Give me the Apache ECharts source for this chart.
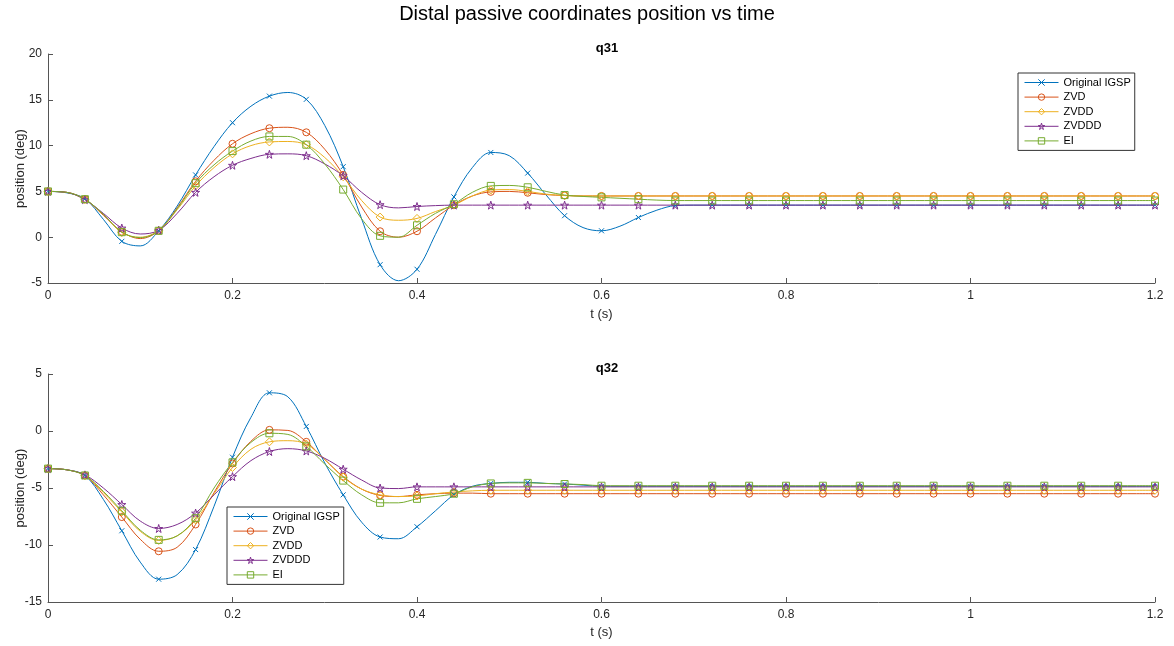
<!DOCTYPE html>
<html>
<head>
<meta charset="utf-8">
<title>Distal passive coordinates position vs time</title>
<script src="https://cdn.jsdelivr.net/npm/echarts@6/dist/echarts.min.js"></script>
<style>
  html, body { margin: 0; padding: 0; background: #fff; }
  #chart { width: 1174px; height: 646px; }
</style>
</head>
<body>
<div id="chart"></div>
<script>
// Time samples (s)
const timeS = [0, 0.02, 0.04, 0.06, 0.08, 0.1, 0.12, 0.14, 0.16, 0.18,
  0.2, 0.22, 0.24, 0.26, 0.28, 0.3, 0.32, 0.34, 0.36, 0.38,
  0.4, 0.42, 0.44, 0.46, 0.48, 0.5, 0.52, 0.54, 0.56, 0.58,
  0.6, 0.62, 0.64, 0.66, 0.68, 0.7, 0.72, 0.74, 0.76, 0.78,
  0.8, 0.82, 0.84, 0.86, 0.88, 0.9, 0.92, 0.94, 0.96, 0.98,
  1, 1.02, 1.04, 1.06, 1.08, 1.1, 1.12, 1.14, 1.16, 1.18, 1.2];

const seriesNames = ['Original IGSP', 'ZVD', 'ZVDD', 'ZVDDD', 'EI'];

// q31 position (deg)
const q31Original = [5.0, 4.85, 4.2, 1.95, -0.45, -0.95, 0.7, 3.4, 6.8, 9.9,
  12.5, 14.3, 15.4, 15.8, 15.05, 12.2, 7.7, 2.0, -3.0, -4.75,
  -3.5, 0.3, 4.4, 7.6, 9.25, 8.9, 7.0, 4.6, 2.35, 1.05,
  0.7, 1.2, 2.15, 2.95, 3.45, 3.5, 3.5, 3.5, 3.5, 3.5,
  3.5, 3.5, 3.5, 3.5, 3.5, 3.5, 3.5, 3.5, 3.5, 3.5,
  3.5, 3.5, 3.5, 3.5, 3.5, 3.5, 3.5, 3.5, 3.5, 3.5, 3.5];
const q31ZVD = [5.0, 4.9, 4.15, 2.4, 0.6, -0.15, 0.7, 3.2, 6.1, 8.4,
  10.2, 11.3, 11.9, 12.0, 11.45, 9.6, 6.8, 3.3, 0.65, 0.0,
  0.65, 2.1, 3.5, 4.5, 4.95, 5.0, 4.85, 4.65, 4.55, 4.5,
  4.5, 4.5, 4.5, 4.5, 4.5, 4.5, 4.5, 4.5, 4.5, 4.5,
  4.5, 4.5, 4.5, 4.5, 4.5, 4.5, 4.5, 4.5, 4.5, 4.5,
  4.5, 4.5, 4.5, 4.5, 4.5, 4.5, 4.5, 4.5, 4.5, 4.5, 4.5];
const q31ZVDD = [5.0, 4.9, 4.1, 2.5, 0.5, 0.0, 0.75, 3.0, 5.6, 7.6,
  9.1, 10.0, 10.4, 10.45, 10.1, 8.7, 6.6, 4.0, 2.2, 1.85,
  2.05, 2.8, 3.5, 4.5, 5.15, 5.2, 5.0, 4.7, 4.55, 4.5,
  4.5, 4.5, 4.5, 4.5, 4.5, 4.5, 4.5, 4.5, 4.5, 4.5,
  4.5, 4.5, 4.5, 4.5, 4.5, 4.5, 4.5, 4.5, 4.5, 4.5,
  4.5, 4.5, 4.5, 4.5, 4.5, 4.5, 4.5, 4.5, 4.5, 4.5, 4.5];
const q31ZVDDD = [5.0, 4.9, 4.1, 2.6, 1.0, 0.35, 0.75, 2.6, 4.9, 6.6,
  7.85, 8.6, 9.05, 9.1, 8.9, 8.0, 6.7, 4.9, 3.55, 3.2,
  3.35, 3.45, 3.5, 3.5, 3.5, 3.5, 3.5, 3.5, 3.5, 3.5,
  3.5, 3.5, 3.5, 3.5, 3.5, 3.5, 3.5, 3.5, 3.5, 3.5,
  3.5, 3.5, 3.5, 3.5, 3.5, 3.5, 3.5, 3.5, 3.5, 3.5,
  3.5, 3.5, 3.5, 3.5, 3.5, 3.5, 3.5, 3.5, 3.5, 3.5, 3.5];
const q31EI = [5.0, 4.9, 4.15, 2.5, 0.55, -0.05, 0.7, 3.1, 5.9, 7.9,
  9.4, 10.5, 11.0, 11.0, 10.1, 8.0, 5.2, 2.0, 0.15, 0.0,
  1.3, 2.6, 3.6, 4.9, 5.6, 5.65, 5.45, 5.0, 4.6, 4.45,
  4.35, 4.25, 4.15, 4.05, 4.0, 4.0, 4.0, 4.0, 4.0, 4.0,
  4.0, 4.0, 4.0, 4.0, 4.0, 4.0, 4.0, 4.0, 4.0, 4.0,
  4.0, 4.0, 4.0, 4.0, 4.0, 4.0, 4.0, 4.0, 4.0, 4.0, 4.0];

// q32 position (deg)
const q32Original = [-3.3, -3.4, -3.9, -6.0, -8.75, -11.5, -13.0, -12.6, -10.4, -6.6,
  -2.3, 1.2, 3.35, 3.0, 0.4, -2.8, -5.6, -8.0, -9.3, -9.45,
  -8.4, -7.0, -5.6, -4.85, -4.6, -4.5, -4.5, -4.6, -4.65, -4.75,
  -4.85, -4.85, -4.85, -4.85, -4.85, -4.85, -4.85, -4.85, -4.85, -4.85,
  -4.85, -4.85, -4.85, -4.85, -4.85, -4.85, -4.85, -4.85, -4.85, -4.85,
  -4.85, -4.85, -4.85, -4.85, -4.85, -4.85, -4.85, -4.85, -4.85, -4.85, -4.85];
const q32ZVD = [-3.3, -3.4, -3.9, -5.6, -7.55, -9.5, -10.55, -10.2, -8.2, -5.4,
  -2.85, -0.9, 0.1, 0.05, -0.95, -2.5, -4.0, -5.1, -5.65, -5.75,
  -5.6, -5.5, -5.45, -5.45, -5.5, -5.5, -5.5, -5.5, -5.5, -5.5,
  -5.5, -5.5, -5.5, -5.5, -5.5, -5.5, -5.5, -5.5, -5.5, -5.5,
  -5.5, -5.5, -5.5, -5.5, -5.5, -5.5, -5.5, -5.5, -5.5, -5.5,
  -5.5, -5.5, -5.5, -5.5, -5.5, -5.5, -5.5, -5.5, -5.5, -5.5, -5.5];
const q32ZVDD = [-3.3, -3.4, -3.9, -5.4, -7.1, -8.8, -9.6, -9.2, -7.8, -5.5,
  -3.2, -1.6, -0.95, -0.85, -1.15, -2.5, -4.05, -5.1, -5.6, -5.75,
  -5.7, -5.5, -5.35, -5.25, -5.2, -5.2, -5.2, -5.2, -5.2, -5.2,
  -5.2, -5.2, -5.2, -5.2, -5.2, -5.2, -5.2, -5.2, -5.2, -5.2,
  -5.2, -5.2, -5.2, -5.2, -5.2, -5.2, -5.2, -5.2, -5.2, -5.2,
  -5.2, -5.2, -5.2, -5.2, -5.2, -5.2, -5.2, -5.2, -5.2, -5.2, -5.2];
const q32ZVDDD = [-3.3, -3.4, -3.85, -5.0, -6.45, -7.9, -8.55, -8.2, -7.2, -5.6,
  -4.0, -2.6, -1.8, -1.55, -1.75, -2.4, -3.35, -4.3, -5.0, -5.05,
  -4.9, -4.9, -4.9, -4.9, -4.9, -4.9, -4.9, -4.9, -4.9, -4.9,
  -4.9, -4.9, -4.9, -4.9, -4.9, -4.9, -4.9, -4.9, -4.9, -4.9,
  -4.9, -4.9, -4.9, -4.9, -4.9, -4.9, -4.9, -4.9, -4.9, -4.9,
  -4.9, -4.9, -4.9, -4.9, -4.9, -4.9, -4.9, -4.9, -4.9, -4.9, -4.9];
const q32EI = [-3.3, -3.4, -3.9, -5.3, -7.0, -8.7, -9.55, -9.2, -7.65, -5.0,
  -2.75, -1.0, -0.2, -0.3, -1.35, -2.9, -4.35, -5.6, -6.3, -6.3,
  -5.95, -5.75, -5.5, -4.9, -4.6, -4.55, -4.55, -4.6, -4.65, -4.7,
  -4.8, -4.8, -4.8, -4.8, -4.8, -4.8, -4.8, -4.8, -4.8, -4.8,
  -4.8, -4.8, -4.8, -4.8, -4.8, -4.8, -4.8, -4.8, -4.8, -4.8,
  -4.8, -4.8, -4.8, -4.8, -4.8, -4.8, -4.8, -4.8, -4.8, -4.8, -4.8];

// Line colours and marker shapes, one per controller
const colors = ['#0072BD', '#D95319', '#EDB120', '#7E2F8E', '#77AC30'];
const markers = [
  'path://M0,0L10,10M10,0L0,10',
  'circle',
  'diamond',
  'path://M50,0L61,35L98,35L68,57L79,91L50,70L21,91L32,57L2,35L39,35Z',
  'rect'
];
const markerSizes = [5, 7, 8, 8, 7];

const FONT = '"Liberation Sans", Arial, Helvetica, sans-serif';
const AXIS_COLOR = '#555';
const TEXT_COLOR = '#262626';

// Markers on every other sample (every 0.04 s); the line itself uses all samples
function toPoints(values) {
  return timeS.map((t, i) => (i % 2 === 0)
    ? [t, values[i]]
    : { value: [t, values[i]], symbol: 'none' });
}

function makeSeries(name, idx, values, axisIndex) {
  const c = colors[idx];
  return {
    name: name,
    type: 'line',
    xAxisIndex: axisIndex,
    yAxisIndex: axisIndex,
    data: toPoints(values),
    smooth: 0.35,
    symbol: markers[idx],
    symbolSize: markerSizes[idx],
    showAllSymbol: true,
    color: c,
    lineStyle: { color: c, width: 1 },
    itemStyle: { color: 'rgba(255,255,255,0)', borderColor: c, borderWidth: 1 },
    emphasis: { disabled: true },
    animation: false
  };
}

function xAxisFor(gridIndex, gap) {
  return {
    type: 'value',
    gridIndex: gridIndex,
    min: 0, max: 1.2, interval: 0.2,
    name: 't (s)',
    nameLocation: 'middle',
    nameGap: gap,
    nameMoveOverlap: false,
    nameTextStyle: { color: TEXT_COLOR, fontSize: 13, fontFamily: FONT },
    axisLine: { show: true, onZero: false, lineStyle: { color: AXIS_COLOR, width: 1 } },
    axisTick: { show: true, inside: true, length: 5, lineStyle: { color: AXIS_COLOR } },
    axisLabel: {
      color: TEXT_COLOR, fontSize: 12, fontFamily: FONT, margin: 7,
      formatter: v => String(+v.toFixed(1))
    },
    splitLine: { show: false }
  };
}

function yAxisFor(gridIndex, min, max) {
  return {
    type: 'value',
    gridIndex: gridIndex,
    min: min, max: max, interval: 5,
    name: 'position (deg)',
    nameLocation: 'middle',
    nameRotate: 90,
    nameGap: 21,
    nameMoveOverlap: false,
    nameTextStyle: { color: TEXT_COLOR, fontSize: 13, fontFamily: FONT },
    axisLine: { show: true, onZero: false, lineStyle: { color: AXIS_COLOR, width: 1 } },
    axisTick: { show: true, inside: true, length: 5, lineStyle: { color: AXIS_COLOR } },
    axisLabel: { color: TEXT_COLOR, fontSize: 12, fontFamily: FONT, margin: 6 },
    splitLine: { show: false }
  };
}

function legendFor(left, top) {
  return {
    orient: 'vertical',
    left: left,
    top: top,
    data: seriesNames,
    itemWidth: 34,
    itemHeight: 8,
    itemGap: 3.6,
    padding: [4, 4, 4, 6],
    backgroundColor: '#fff',
    borderColor: '#333',
    borderWidth: 1,
    borderRadius: 0,
    selectedMode: false,
    lineStyle: { width: 1 },
    itemStyle: { borderWidth: 1 },
    textStyle: { color: '#000', fontSize: 11, fontFamily: FONT, lineHeight: 11 }
  };
}

const chart = echarts.init(document.getElementById('chart'), null, { renderer: 'canvas' });

const q31Sets = [q31Original, q31ZVD, q31ZVDD, q31ZVDDD, q31EI];
const q32Sets = [q32Original, q32ZVD, q32ZVDD, q32ZVDDD, q32EI];

chart.setOption({
  backgroundColor: '#fff',
  animation: false,
  title: [
    {
      text: 'Distal passive coordinates position vs time',
      left: 'center', top: -1,
      textStyle: { color: '#000', fontSize: 20, fontWeight: 'normal', fontFamily: FONT }
    },
    {
      text: 'q31', left: 602, textAlign: 'center', top: 37,
      textStyle: { color: '#000', fontSize: 13, fontWeight: 'bold', fontFamily: FONT }
    },
    {
      text: 'q32', left: 602, textAlign: 'center', top: 357,
      textStyle: { color: '#000', fontSize: 13, fontWeight: 'bold', fontFamily: FONT }
    }
  ],
  grid: [
    { left: 48, right: 19, top: 54, height: 229, outerBoundsMode: 'none' },
    { left: 48, right: 19, top: 374, height: 228, outerBoundsMode: 'none' }
  ],
  xAxis: [xAxisFor(0, 24.5), xAxisFor(1, 24)],
  yAxis: [yAxisFor(0, -5, 20), yAxisFor(1, -15, 5)],
  legend: [legendFor(1018, 73), legendFor(227, 507)],
  series: [
    ...seriesNames.map((n, i) => makeSeries(n, i, q31Sets[i], 0)),
    ...seriesNames.map((n, i) => makeSeries(n, i, q32Sets[i], 1))
  ]
});
</script>
</body>
</html>
